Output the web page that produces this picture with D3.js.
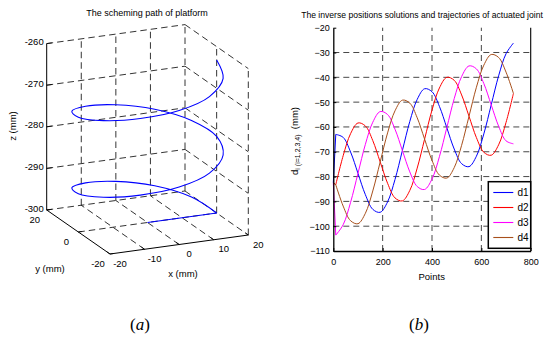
<!DOCTYPE html>
<html>
<head>
<meta charset="utf-8">
<script src="https://cdn.jsdelivr.net/npm/d3@7/dist/d3.min.js"></script>
<style>
  body { margin: 0; background: #fff; }
  svg { display: block; }
  text { font-family: "Liberation Sans", Arial, sans-serif; fill: #000; }
</style>
</head>
<body>
<div id="chart"></div>
<script>
// ---- data: (a) platform path, sampled every 30 deg of the helix ----
const helixX = [0, 20, 17.3, 10, 0, -10, -17.3, -20, -17.3, -10, 0, 10, 17.3, 20, 17.3, 10, 0, -10, -17.3, -20, -17.3, -10, 0, 10, 17.3, 20];
const helixY = [0, 0, 10, 17.3, 20, 17.3, 10, 0, -10, -17.3, -20, -17.3, -10, 0, 10, 17.3, 20, 17.3, 10, 0, -10, -17.3, -20, -17.3, -10, 0];
const helixZ = [-300, -300, -298.5, -296.9, -295.4, -293.9, -292.3, -290.8, -289.3, -287.7, -286.2, -284.7, -283.1, -281.6, -280.1, -278.5, -277.0, -275.5, -273.9, -272.4, -270.9, -269.3, -267.8, -266.3, -264.7, -263.2];
const xTicks3 = [-20, -10, 0, 10, 20];
const yTicks3 = [-20, 0, 20];
const zTicks3 = [-300, -290, -280, -270, -260];

// ---- data: (b) joint positions ----
const points = [0, 10, 40, 70, 100, 130, 160, 190, 220, 250, 280, 310, 340, 370, 400, 430, 460, 490, 520, 550, 580, 610, 640, 670, 700, 730];
const joint1 = [-82.5, -63.0, -64.2, -70.1, -78.7, -87.3, -93.2, -94.4, -90.2, -81.2, -69.5, -57.8, -48.9, -44.6, -45.8, -51.7, -60.3, -68.9, -74.8, -76.0, -71.8, -62.8, -51.1, -39.4, -30.5, -26.2];
const joint2 = [-82.5, -83.3, -71.6, -62.7, -58.4, -59.6, -65.5, -74.1, -82.7, -88.6, -89.8, -85.6, -76.6, -64.9, -53.2, -44.3, -40.0, -41.2, -47.1, -55.7, -64.3, -70.2, -71.4, -67.2, -58.2, -46.5];
const joint3 = [-82.5, -103.6, -99.4, -90.4, -78.7, -67.0, -58.1, -53.8, -55.0, -60.9, -69.5, -78.1, -84.0, -85.2, -81.0, -72.0, -60.3, -48.6, -39.7, -35.4, -36.6, -42.5, -51.1, -59.7, -65.6, -66.8];
const joint4 = [-82.5, -83.3, -91.9, -97.8, -99.0, -94.8, -85.8, -74.1, -62.4, -53.5, -49.2, -50.4, -56.3, -64.9, -73.5, -79.4, -80.6, -76.4, -67.4, -55.7, -44.0, -35.1, -30.8, -32.0, -37.9, -46.5];
const seriesNames = ["d1", "d2", "d3", "d4"];
const seriesColors = ["#0000ff", "#ff0000", "#ff00ff", "#a8501c"];
const xTicksB = [0, 200, 400, 600, 800];
const yTicksB = [-20, -30, -40, -50, -60, -70, -80, -90, -100, -110];

const W = 556, H = 342;
const svg = d3.select("#chart").append("svg").attr("width", W).attr("height", H);

// ================= (a) 3D path =================
const A = svg.append("g");
// screen origin of (x=-20, y=-20, z=-300) and edge vectors of the box
const O = [110, 254], EX = [138.3, -19], EY = [-63.3, -44], EZ = [0, -166.4];
const sx = d3.scaleLinear().domain([-20, 20]).range([0, 1]);
const sy = d3.scaleLinear().domain([-20, 20]).range([0, 1]);
const sz = d3.scaleLinear().domain([-300, -260]).range([0, 1]);
function proj(x, y, z) {
  const u = sx(x), v = sy(y), w = sz(z);
  return [O[0] + u * EX[0] + v * EY[0] + w * EZ[0], O[1] + u * EX[1] + v * EY[1] + w * EZ[1]];
}
const seg = (p, q) => "M" + proj(...p) + "L" + proj(...q);

const grid3 = [];
zTicks3.forEach(z => {
  grid3.push([[-20, 20, z], [20, 20, z]]);
  grid3.push([[20, 20, z], [20, -20, z]]);
});
xTicks3.filter(x => x > -20).forEach(x => {
  grid3.push([[x, 20, -300], [x, 20, -260]]);
  if (x < 20) grid3.push([[x, -20, -300], [x, 20, -300]]);
});
yTicks3.filter(y => y < 20).forEach(y => {
  grid3.push([[20, y, -300], [20, y, -260]]);
  if (y > -20) grid3.push([[-20, y, -300], [20, y, -300]]);
});
A.append("g").selectAll("path").data(grid3).join("path")
  .attr("d", d => seg(d[0], d[1]))
  .attr("fill", "none").attr("stroke", "#000").attr("stroke-width", 0.8)
  .attr("stroke-dasharray", "6.5,4");

// axis lines
const axes3 = [
  [[-20, -20, -300], [20, -20, -300]],
  [[-20, -20, -300], [-20, 20, -300]],
  [[-20, 20, -300], [-20, 20, -260]]
];
A.append("g").selectAll("path").data(axes3).join("path")
  .attr("d", d => seg(d[0], d[1]))
  .attr("stroke", "#000").attr("stroke-width", 1);

// ticks
const tk = A.append("g").attr("stroke", "#000").attr("stroke-width", 0.8);
xTicks3.forEach(x => tk.append("path").attr("d", seg([x, -20, -300], [x, -18, -300])));
yTicks3.forEach(y => tk.append("path").attr("d", seg([-20, y, -300], [-19, y, -300])));
zTicks3.forEach(z => tk.append("path").attr("d", seg([-20, 20, z], [-18.5, 20, z])));

// tick labels
A.append("g").selectAll("text").data(xTicks3).join("text")
  .attr("x", d => proj(d, -20, -300)[0] + 10)
  .attr("y", d => proj(d, -20, -300)[1] + 12.5)
  .attr("text-anchor", "middle").attr("font-size", 9.5).text(d => d);
A.append("g").selectAll("text").data(yTicks3).join("text")
  .attr("x", d => proj(-20, d, -300)[0] - 12)
  .attr("y", d => proj(-20, d, -300)[1] + 12.5)
  .attr("text-anchor", "middle").attr("font-size", 9.5).text(d => d);
A.append("g").selectAll("text").data(zTicks3).join("text")
  .attr("x", d => proj(-20, 20, d)[0] - 3)
  .attr("y", d => proj(-20, 20, d)[1] + 1.5)
  .attr("text-anchor", "end").attr("font-size", 9.5).text(d => d);

A.append("text").attr("x", 183).attr("y", 276.5).attr("text-anchor", "middle")
  .attr("font-size", 9.5).text("x (mm)");
A.append("text").attr("x", 50).attr("y", 271.5).attr("text-anchor", "middle")
  .attr("font-size", 9.5).text("y (mm)");
A.append("text").attr("transform", "translate(16,126) rotate(-90)").attr("text-anchor", "middle")
  .attr("font-size", 9.5).text("z (mm)");
A.append("text").attr("x", 147).attr("y", 15.5).attr("text-anchor", "middle")
  .attr("font-size", 9).text("The scheming path of platform");

// helix
const hp = helixX.map((x, i) => proj(x, helixY[i], helixZ[i]));
A.append("path").attr("d", d3.line()(hp.slice(0, 2)))
  .attr("fill", "none").attr("stroke", "#0000ff").attr("stroke-width", 1.1);
A.append("path").attr("d", d3.line().curve(d3.curveCatmullRom.alpha(0.5))(hp.slice(1)))
  .attr("fill", "none").attr("stroke", "#0000ff").attr("stroke-width", 1.1);

// ================= (b) joint trajectories =================
const B = svg.append("g");
const x = d3.scaleLinear().domain([0, 800]).range([333.3, 530.7]);
const y = d3.scaleLinear().domain([-110, -20]).range([251, 27.7]);

// grid
B.append("g").selectAll("line").data([200, 400, 600]).join("line")
  .attr("x1", d => x(d)).attr("x2", d => x(d)).attr("y1", y(-110)).attr("y2", y(-20))
  .attr("stroke", "#333").attr("stroke-width", 0.9).attr("stroke-dasharray", "6,4");
B.append("g").selectAll("line").data(yTicksB.filter(v => v > -110 && v < -20)).join("line")
  .attr("x1", x(0)).attr("x2", x(800)).attr("y1", d => y(d)).attr("y2", d => y(d))
  .attr("stroke", "#333").attr("stroke-width", 0.9).attr("stroke-dasharray", "6,4");

// curves
const allSeries = [joint1, joint2, joint3, joint4];
allSeries.forEach((s, k) => {
  const pts = points.map((p, i) => [x(p), y(s[i])]);
  B.append("path").attr("d", d3.line()(pts.slice(0, 2)))
    .attr("fill", "none").attr("stroke", seriesColors[k]).attr("stroke-width", 1);
  B.append("path").attr("d", d3.line().curve(d3.curveCatmullRom.alpha(0.5))(pts.slice(1)))
    .attr("fill", "none").attr("stroke", seriesColors[k]).attr("stroke-width", 1);
});

// axes
const gy = B.append("g").attr("transform", `translate(${x(0)},0)`)
  .call(d3.axisLeft(y).tickValues(yTicksB).tickSize(-3).tickSizeOuter(0).tickPadding(3.5));
const gx = B.append("g").attr("transform", `translate(0,${y(-110)})`)
  .call(d3.axisBottom(x).tickValues(xTicksB).tickSize(-3).tickSizeOuter(0).tickPadding(8));
[gx, gy].forEach(g => {
  g.selectAll("text").attr("font-size", 9).attr("font-family", "Liberation Sans, Arial, sans-serif").attr("fill", "#000");
  g.selectAll("line").attr("stroke", "#000");
  g.select(".domain").attr("stroke", "#000").attr("stroke-width", 1.3);
});
B.append("line").attr("x1", x(800)).attr("x2", x(800)).attr("y1", y(-20)).attr("y2", y(-110))
  .attr("stroke", "#000").attr("stroke-width", 1.1);

B.append("text").attr("x", 431.7).attr("y", 280).attr("text-anchor", "middle")
  .attr("font-size", 9.5).text("Points");
B.append("text").attr("x", 422).attr("y", 18).attr("text-anchor", "middle")
  .attr("font-size", 8.6).text("The inverse positions solutions and trajectories of actuated joint");
const yl = B.append("text").attr("transform", "translate(298,141) rotate(-90)")
  .attr("text-anchor", "middle").attr("font-size", 9.5);
yl.append("tspan").text("d");
yl.append("tspan").attr("font-size", 7).attr("dy", 2).text("i (i=1,2,3,4)");
yl.append("tspan").attr("dy", -2).text("\u00a0 (mm)");

// legend
const lg = B.append("g");
lg.append("rect").attr("x", 488.3).attr("y", 181.7).attr("width", 42.4).attr("height", 66.6)
  .attr("fill", "#fff").attr("stroke", "#000").attr("stroke-width", 1.5);
seriesNames.forEach((n, k) => {
  const ry = 192.5 + k * 15;
  lg.append("line").attr("x1", 493.3).attr("x2", 513.3).attr("y1", ry).attr("y2", ry)
    .attr("stroke", seriesColors[k]).attr("stroke-width", 1.1);
  lg.append("text").attr("x", 517.5).attr("y", ry + 3.6).attr("font-size", 10).text(n);
});

// panel captions
[["a", 140], ["b", 419]].forEach(([c, cx]) => {
  const t = svg.append("text").attr("x", cx).attr("y", 330).attr("text-anchor", "middle")
    .attr("font-size", 17).style("font-family", "Liberation Serif, Times New Roman, serif");
  t.append("tspan").text("(");
  t.append("tspan").attr("font-style", "italic").text(c);
  t.append("tspan").text(")");
});
</script>
</body>
</html>
